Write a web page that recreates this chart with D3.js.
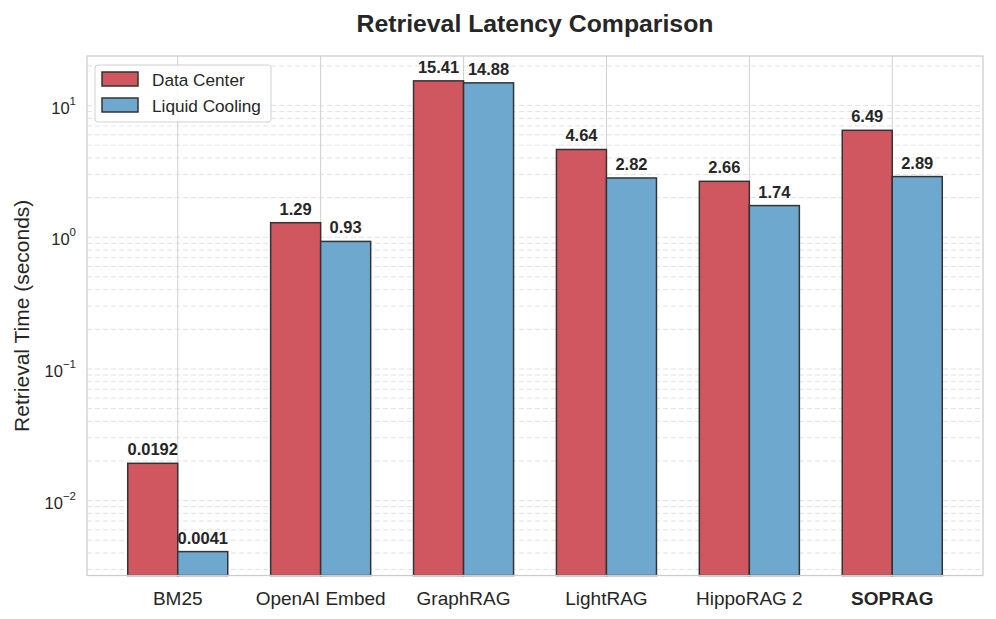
<!DOCTYPE html>
<html>
<head>
<meta charset="utf-8">
<script src="https://cdn.jsdelivr.net/npm/d3@7"></script>
<style>
  body { margin: 0; background: #fff; }
  text { font-family: "Liberation Sans", Arial, sans-serif; fill: #262626; }
</style>
</head>
<body>
<svg id="chart" width="996" height="619"></svg>
<script>
const methods = ["BM25", "OpenAI Embed", "GraphRAG", "LightRAG", "HippoRAG 2", "SOPRAG"];
const dataCenter = [0.0192, 1.29, 15.41, 4.64, 2.66, 6.49];
const liquidCooling = [0.0041, 0.93, 14.88, 2.82, 1.74, 2.89];
const dataCenterLabels = ["0.0192", "1.29", "15.41", "4.64", "2.66", "6.49"];
const liquidCoolingLabels = ["0.0041", "0.93", "14.88", "2.82", "1.74", "2.89"];
const series = [
  { name: "Data Center", values: dataCenter, labels: dataCenterLabels, color: "#d0575f" },
  { name: "Liquid Cooling", values: liquidCooling, labels: liquidCoolingLabels, color: "#6fa8cf" },
];

const margin = { left: 87, right: 13, top: 56, bottom: 43.5 };
const W = 996, H = 619;
const svg = d3.select("#chart");

const x = d3.scaleLinear().domain([-0.635, methods.length - 1 + 0.635])
  .range([margin.left, W - margin.right]);
const y = d3.scaleLog().domain([0.0027, 23.8])
  .range([H - margin.bottom, margin.top]);
const BW = 0.35;

// grid lines (minor + major, dashed)
const gridVals = [];
for (let e = -3; e <= 1; e++) {
  for (let m = 1; m <= 9; m++) {
    const v = m * Math.pow(10, e);
    if (v >= y.domain()[0] && v <= y.domain()[1]) gridVals.push(v);
  }
}
svg.append("g").selectAll("line").data(gridVals).join("line")
  .attr("x1", margin.left).attr("x2", W - margin.right)
  .attr("y1", d => y(d)).attr("y2", d => y(d))
  .attr("stroke", "#e2e2e2").attr("stroke-width", 1)
  .attr("stroke-dasharray", "5,3");

// vertical grid at category centres
svg.append("g").selectAll("line").data(methods).join("line")
  .attr("x1", (d, i) => x(i)).attr("x2", (d, i) => x(i))
  .attr("y1", margin.top).attr("y2", H - margin.bottom)
  .attr("stroke", "#cfcfcf").attr("stroke-width", 1);

// bars
series.forEach((s, k) => {
  const off = k === 0 ? -BW : 0;
  const g = svg.append("g");
  g.selectAll("rect").data(s.values).join("rect")
    .attr("x", (d, i) => x(i + off))
    .attr("width", x(BW) - x(0))
    .attr("y", d => y(d))
    .attr("height", d => y.range()[0] - y(d))
    .attr("fill", s.color)
    .attr("stroke", "#333").attr("stroke-width", 1.5);
  g.selectAll("text").data(s.values).join("text")
    .attr("x", (d, i) => x(i + off + BW / 2))
    .attr("y", d => y(d) - 8)
    .attr("text-anchor", "middle")
    .attr("font-size", 16.5).attr("font-weight", "bold")
    .text((d, i) => s.labels[i]);
});

// frame
svg.append("rect")
  .attr("x", margin.left).attr("y", margin.top)
  .attr("width", W - margin.left - margin.right)
  .attr("height", H - margin.top - margin.bottom)
  .attr("fill", "none").attr("stroke", "#cccccc").attr("stroke-width", 1.25);

// y tick labels
const majors = [-2, -1, 0, 1];
const yt = svg.append("g").selectAll("text").data(majors).join("text")
  .attr("x", 76).attr("y", e => y(Math.pow(10, e)) + 8)
  .attr("text-anchor", "end").attr("font-size", 16.5);
yt.append("tspan").text("10");
yt.append("tspan").attr("dy", -9).attr("font-size", 11.5)
  .text(e => e < 0 ? "\u2212" + Math.abs(e) : e);

// x tick labels
svg.append("g").selectAll("text").data(methods).join("text")
  .attr("x", (d, i) => x(i)).attr("y", 605)
  .attr("text-anchor", "middle").attr("font-size", 19)
  .attr("font-weight", d => d === "SOPRAG" ? "bold" : "normal")
  .text(d => d);

// axis title
svg.append("text")
  .attr("transform", `translate(29,${(margin.top + H - margin.bottom) / 2}) rotate(-90)`)
  .attr("text-anchor", "middle").attr("font-size", 21)
  .text("Retrieval Time (seconds)");

// title
svg.append("text")
  .attr("x", (margin.left + W - margin.right) / 2).attr("y", 32)
  .attr("text-anchor", "middle").attr("font-size", 24.8).attr("font-weight", "bold")
  .text("Retrieval Latency Comparison");

// legend
const lg = svg.append("g").attr("transform", "translate(95,65)");
lg.append("rect").attr("width", 176).attr("height", 57).attr("rx", 3)
  .attr("fill", "#fff").attr("fill-opacity", 0.85)
  .attr("stroke", "#d0d0d0").attr("stroke-width", 1);
series.forEach((s, k) => {
  lg.append("rect").attr("x", 7).attr("y", 7 + k * 26).attr("width", 36).attr("height", 14)
    .attr("fill", s.color).attr("stroke", "#333").attr("stroke-width", 1.5);
  lg.append("text").attr("x", 57).attr("y", 21 + k * 26)
    .attr("font-size", 17.2).text(s.name);
});
</script>
</body>
</html>
